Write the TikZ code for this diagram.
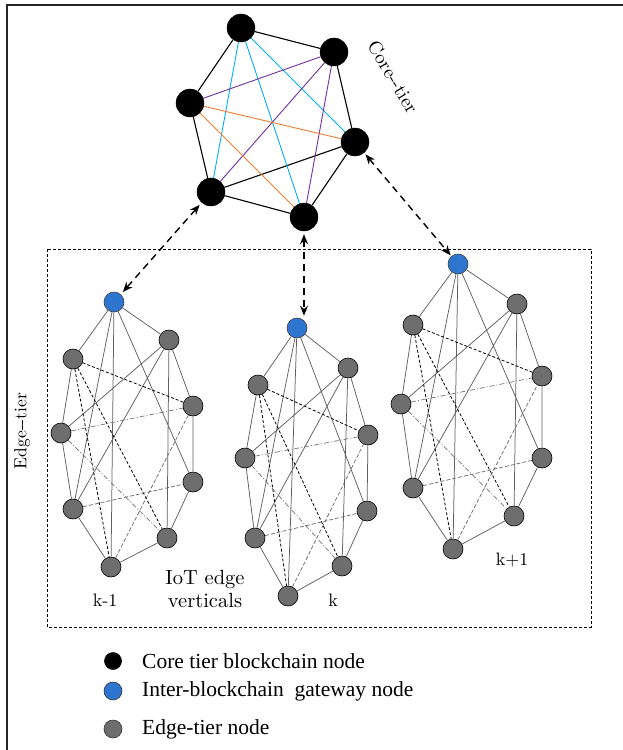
\documentclass[tikz,border=0pt]{standalone}
\usepackage{fontspec}
\newfontfamily\legendfont{Liberation Serif}
\newfontfamily\labelfont{lmroman10-regular.otf}
\usetikzlibrary{arrows.meta}
\definecolor{gwblue}{RGB}{46,117,208}
\definecolor{edgegray}{RGB}{110,110,110}
\definecolor{linkcyan}{RGB}{0,176,240}
\definecolor{linkpurple}{RGB}{112,48,160}
\definecolor{linkorange}{RGB}{237,125,49}
\definecolor{ringgray}{RGB}{95,95,95}

\tikzset{
  corenode/.style={circle, fill=black, draw=black, minimum size=28, inner sep=0},
  gwnode/.style={circle, fill=gwblue, draw=black!75, line width=0.6, minimum size=20, inner sep=0},
  edgenode/.style={circle, fill=edgegray, draw=black, line width=0.6, minimum size=20, inner sep=0},
  coreedge/.style={line width=1.1, black},
  ring/.style={line width=0.75, ringgray},
  dk/.style={line width=0.8, black, dash pattern=on 3 off 2},
  dd/.style={line width=0.7, black!55, dash pattern=on 5 off 2 on 1 off 2},
  lt/.style={line width=0.7, black!60, dash pattern=on 4 off 2},
  link/.style={line width=1.4, black, dash pattern=on 7 off 5,
    {Stealth[length=10,width=8]}-{Stealth[length=10,width=8]}},
  lbl/.style={font=\labelfont\fontsize{18}{20}\selectfont, inner sep=0},
  legend/.style={font=\legendfont\fontsize{21.5}{24}\selectfont, anchor=west, inner sep=0},
  keydot/.style={circle, draw=black!80, line width=0.6, minimum size=18, inner sep=0},
}

% links inside one edge vertical (nodes named <prefix>G, <prefix>a ... <prefix>h)
\newcommand{\clusterlinks}[1]{%
  \draw[ring] (#1G)--(#1a) (#1G)--(#1b) (#1a)--(#1d) (#1d)--(#1f) (#1f)--(#1h)
              (#1h)--(#1g) (#1g)--(#1e) (#1e)--(#1c) (#1c)--(#1b);
  \draw[ring] (#1G)--(#1h) (#1G)--(#1f) (#1G)--(#1e) (#1b)--(#1d) (#1b)--(#1f) (#1b)--(#1g);
  \draw[dk] (#1a)--(#1c) (#1a)--(#1h) (#1a)--(#1g);
  \draw[dd] (#1d)--(#1c) (#1d)--(#1g);
  \draw[lt] (#1f)--(#1e) (#1h)--(#1c);
}

\begin{document}
\begin{tikzpicture}[x=1pt, y=-1pt]
\useasboundingbox (0,0) rectangle (623,750);

% frame
\draw[line width=1.6, black!85] (7,750) -- (7,5) -- (623,5);

% edge tier box
\draw[line width=0.8, dash pattern=on 3 off 2] (47,249) rectangle (591,627);

% core tier
\node[corenode] (C1) at (241,28) {};
\node[corenode] (C2) at (334,52) {};
\node[corenode] (C3) at (190,103) {};
\node[corenode] (C4) at (355,142) {};
\node[corenode] (C5) at (211,192) {};
\node[corenode] (C6) at (304,217) {};

\draw[coreedge] (C1)--(C2) (C2)--(C4) (C4)--(C6) (C6)--(C5) (C5)--(C3) (C3)--(C1) (C5)--(C4);
\draw[line width=0.9, linkcyan] (C1)--(C5) (C1)--(C4) (C1)--(C6);
\draw[line width=0.9, linkpurple] (C3)--(C2) (C2)--(C5) (C2)--(C6);
\draw[line width=0.9, linkorange] (C3)--(C4) (C3)--(C6);

\node[lbl, font=\labelfont\fontsize{19}{21}\selectfont, rotate=-59] (coretxt) at (393,77) {Core--tier};

% edge vertical k-1
\node[gwnode]   (LG) at (114,302) {};
\node[edgenode] (La) at (73,359) {};
\node[edgenode] (Lb) at (169,340) {};
\node[edgenode] (Lc) at (193,406) {};
\node[edgenode] (Ld) at (61,433) {};
\node[edgenode] (Le) at (193,482) {};
\node[edgenode] (Lf) at (73,509) {};
\node[edgenode] (Lg) at (167,538) {};
\node[edgenode] (Lh) at (111,567) {};
\clusterlinks{L}

% edge vertical k
\node[gwnode]   (MG) at (297,328) {};
\node[edgenode] (Ma) at (258,385) {};
\node[edgenode] (Mb) at (348,368) {};
\node[edgenode] (Mc) at (368,435) {};
\node[edgenode] (Md) at (245,458) {};
\node[edgenode] (Me) at (367,511) {};
\node[edgenode] (Mf) at (255,538) {};
\node[edgenode] (Mg) at (342,566) {};
\node[edgenode] (Mh) at (288,596) {};
\clusterlinks{M}

% edge vertical k+1
\node[gwnode]   (RG) at (458,264) {};
\node[edgenode] (Ra) at (413,325) {};
\node[edgenode] (Rb) at (517,304) {};
\node[edgenode] (Rc) at (542,376) {};
\node[edgenode] (Rd) at (401,404) {};
\node[edgenode] (Re) at (542,458) {};
\node[edgenode] (Rf) at (413,488) {};
\node[edgenode] (Rg) at (514,516) {};
\node[edgenode] (Rh) at (453,549) {};
\clusterlinks{R}

% core <-> gateway links
\draw[link, shorten <=3, shorten >=3] (C5) -- (LG);
\draw[link, shorten <=3, shorten >=2] (C6.south) -- (C6.south |- MG.north);
\draw[link, shorten <=2, shorten >=1] (C4) -- (RG);

% labels
\node[lbl] (kl) at (105,600) {k-1};
\node[lbl] (km) at (333,600) {k};
\node[lbl] (kr) at (512,560) {k+1};
\node[lbl, font=\labelfont\fontsize{20.5}{23}\selectfont, align=center] (iot) at (205,589)
  {IoT edge\\verticals};
\node[lbl, font=\labelfont\fontsize{17.5}{19}\selectfont, rotate=90] (edgetxt) at (22,431) {Edge--tier};

% legend
\node[keydot, fill=black, draw=black, minimum size=17] (k1) at (113,661) {};
\node[keydot, fill=gwblue] (k2) at (113,691) {};
\node[keydot, fill=edgegray] (k3) at (113,729) {};
\node[legend] (t1) at (142,661) {Core tier blockchain node};
\node[legend] (t2) at (142,691) {Inter-blockchain\ \ gateway node};
\node[legend] (t3) at (142,729) {Edge-tier node};
\end{tikzpicture}
\end{document}
